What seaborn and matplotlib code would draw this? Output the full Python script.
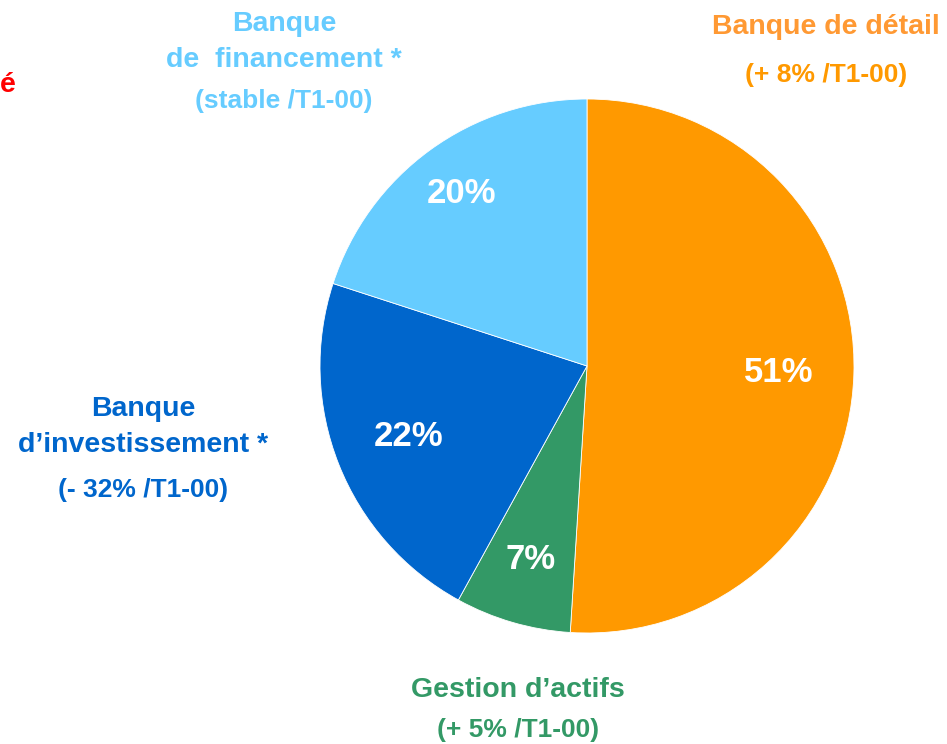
import seaborn as sns
import matplotlib.pyplot as plt

# slice data, clockwise from 12 o'clock
metiers = ["Banque de détail", "Gestion d\u2019actifs", "Banque\nd\u2019investissement *", "Banque\nde  financement *"]
parts = [51, 7, 22, 20]
evolutions = ["(+ 8% /T1-00)", "(+ 5% /T1-00)", "(- 32% /T1-00)", "(stable /T1-00)"]
couleurs = ["#FF9900", "#339966", "#0066CC", "#66CCFF"]

sns.set_style("white")
plt.rcParams['font.family'] = ['Liberation Sans', 'DejaVu Sans']

W, H = 947, 744
fig = plt.figure(figsize=(W / 100, H / 100), dpi=100, facecolor='white')
ax = fig.add_axes([0, 0, 1, 1])

# pie centre / radius in pixels of the original picture
cx, cy, r = 587, H - 366, 267

wedges, texts, autotexts = ax.pie(
    parts,
    colors=couleurs,
    startangle=90,
    counterclock=False,
    center=(cx, cy),
    radius=r,
    autopct='%d%%',
    pctdistance=0.72,
    wedgeprops=dict(edgecolor='white', linewidth=0.6),
    textprops=dict(color='white', fontsize=25, fontweight='bold'),
)
# the small slices have their % a bit further out in the original
for i, k in [(1, 1.05), (3, 1.11)]:
    px, py = autotexts[i].get_position()
    autotexts[i].set_position((cx + (px - cx) * k, cy + (py - cy) * k))

ax.set_xlim(0, W)
ax.set_ylim(0, H)
ax.set_aspect('equal')
ax.axis('off')

# outside labels: (x, y of name, y of change) in picture pixels
label_pos = [(826, 27, 75), (518, 690, 730), (143, 427, 490), (284, 42, 101)]
name_colors = ["#FF9933", "#339966", "#0066CC", "#66CCFF"]
for name, evo, (x, yn, ye), nc, ec in zip(metiers, evolutions, label_pos, name_colors, couleurs):
    ax.text(x, H - yn, name, ha='center', va='center', color=nc,
            fontsize=20.5, fontweight='bold', linespacing=1.5)
    ax.text(x, H - ye, evo, ha='center', va='center', color=ec,
            fontsize=19, fontweight='bold')

# clipped red title fragment at the left edge
ax.text(16, H - 85, "é", ha='right', va='center', color='#FF0000',
        fontsize=20.5, fontweight='bold')

fig.savefig("out.png", dpi=100, facecolor='white')
